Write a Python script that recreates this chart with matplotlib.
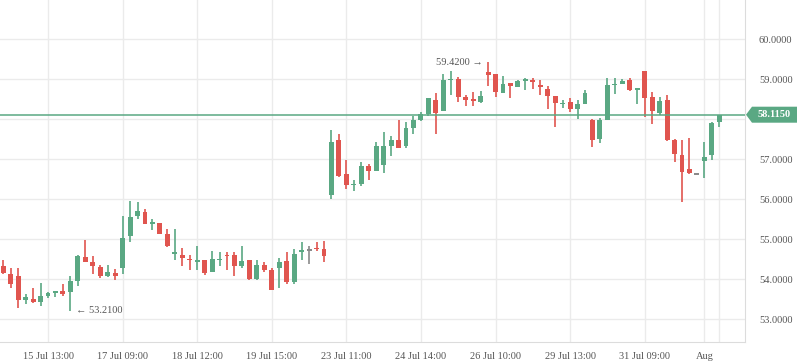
import matplotlib
matplotlib.use("Agg")
import matplotlib.pyplot as plt
from matplotlib.patches import Polygon
import numpy as np

opens = [54.33, 54.13, 54.08, 53.49, 53.50, 53.42, 53.57, 53.66, 53.70, 53.67,
         53.96, 54.56, 54.43, 54.31, 54.07, 54.16, 54.27, 55.07, 55.59, 55.68,
         55.39, 55.41, 55.13, 54.62, 54.61, 54.51, 54.44, 54.48, 54.17, 54.48,
         54.61, 54.61, 54.34, 54.47, 54.01, 54.36, 54.23, 54.29, 54.46, 53.94,
         54.67, 54.73, 54.78, 54.76, 56.11, 57.47, 56.62, 56.35, 56.37, 56.84,
         56.70, 56.85, 57.32, 57.47, 57.32, 57.79, 57.99, 58.14, 58.49, 58.20,
         58.97, 59.00, 58.56, 58.50, 58.43, 59.18, 59.12, 58.66, 58.91, 58.81,
         58.97, 58.99, 58.84, 58.76, 58.58, 58.38, 58.43, 58.26, 58.38, 57.98,
         57.51, 57.98, 58.86, 58.88, 58.98, 58.73, 59.20, 58.55, 58.16, 58.48,
         57.48, 57.10, 56.75, 56.63, 56.95, 57.10, 57.93]
highs = [54.47, 54.28, 54.28, 53.64, 53.77, 53.91, 53.69, 53.71, 53.87, 54.08,
         54.61, 54.98, 54.58, 54.35, 54.35, 54.26, 55.58, 55.96, 55.92, 55.75,
         55.50, 55.41, 55.26, 55.26, 54.78, 54.61, 54.84, 54.48, 54.71, 54.68,
         54.68, 54.68, 54.83, 54.48, 54.48, 54.42, 54.29, 54.52, 54.68, 54.76,
         54.93, 54.83, 54.93, 54.95, 57.74, 57.62, 56.97, 56.47, 56.94, 56.87,
         57.42, 57.67, 57.59, 57.99, 57.94, 58.08, 58.18, 58.52, 58.66, 59.12,
         59.20, 59.06, 58.60, 58.67, 58.70, 59.42, 59.12, 59.07, 58.91, 58.97,
         59.02, 59.02, 58.99, 58.83, 58.58, 58.48, 58.53, 58.49, 58.73, 58.00,
         58.04, 59.03, 59.03, 59.00, 59.03, 58.77, 59.20, 58.68, 58.55, 58.60,
         57.50, 57.48, 57.53, 56.63, 57.43, 57.94, 58.115]
lows = [54.12, 53.78, 53.29, 53.39, 53.41, 53.33, 53.54, 53.55, 53.58, 53.21,
        53.83, 54.44, 54.14, 54.02, 54.05, 53.99, 54.13, 54.94, 55.50, 55.37,
        55.23, 55.12, 54.80, 54.47, 54.32, 54.23, 54.23, 54.11, 54.17, 54.33,
        54.22, 54.07, 54.27, 53.97, 53.97, 54.17, 53.73, 53.77, 53.87, 53.89,
        54.49, 54.37, 54.71, 54.44, 56.00, 56.55, 56.25, 56.20, 56.32, 56.49,
        56.70, 56.65, 57.08, 57.29, 57.27, 57.62, 57.95, 58.08, 57.62, 58.20,
        58.60, 58.43, 58.33, 58.33, 58.41, 58.83, 58.56, 58.66, 58.53, 58.81,
        58.72, 58.76, 58.60, 58.25, 57.81, 58.28, 58.18, 58.01, 58.37, 57.31,
        57.41, 57.98, 58.63, 58.88, 58.71, 58.38, 58.06, 57.88, 58.10, 57.46,
        56.93, 55.93, 56.63, 56.63, 56.53, 56.98, 57.81]
closes = [54.15, 53.88, 53.49, 53.56, 53.42, 53.58, 53.66, 53.70, 53.63, 53.96,
          54.58, 54.44, 54.32, 54.07, 54.18, 54.07, 55.02, 55.56, 55.71, 55.37,
          55.43, 55.14, 54.84, 54.67, 54.52, 54.47, 54.48, 54.15, 54.51, 54.51,
          54.57, 54.34, 54.46, 54.01, 54.36, 54.23, 53.73, 54.42, 53.94, 54.63,
          54.73, 54.73, 54.76, 54.57, 57.44, 56.59, 56.35, 56.37, 56.82, 56.70,
          57.34, 57.32, 57.49, 57.29, 57.79, 57.99, 58.14, 58.52, 58.15, 58.97,
          59.00, 58.56, 58.49, 58.46, 58.58, 59.11, 58.68, 58.89, 58.83, 58.95,
          58.99, 58.93, 58.82, 58.58, 58.41, 58.41, 58.26, 58.38, 58.66, 57.49,
          57.98, 58.85, 58.88, 58.95, 58.73, 58.77, 58.53, 58.20, 58.45, 57.48,
          57.14, 56.68, 56.66, 56.63, 57.06, 57.91, 58.115]

tick_pos = [6, 16, 26, 36, 46, 56, 66, 76, 86, 94, 96]
tick_labels = ["15 Jul 13:00", "17 Jul 09:00", "18 Jul 12:00", "19 Jul 15:00",
               "23 Jul 11:00", "24 Jul 14:00", "26 Jul 10:00", "29 Jul 13:00",
               "31 Jul 09:00", "Aug", ""]
y_ticks = [53, 54, 55, 56, 57, 58, 59, 60]
last_price = 58.115
high_idx, high_val = 65, 59.42
low_idx, low_val = 9, 53.21

GREEN = "#5aa883"
RED = "#e0554f"
GRAY = "#8a8a8a"
TXT = "#555555"
FONT = "Liberation Serif"

fig = plt.figure(figsize=(7.98, 3.63), dpi=100)
ax = fig.add_axes([0, 21 / 363, 745 / 798, 342 / 363])

x = np.arange(len(opens))
o, h, l, c = map(np.array, (opens, highs, lows, closes))
colors = [GREEN if cc > oo else (RED if cc < oo else GRAY) for oo, cc in zip(o, c)]

ax.vlines(x, l, h, colors=colors, linewidth=1.2, zorder=3)
body = np.maximum(np.abs(c - o), 0.03)
bottom = np.minimum(o, c)
bottom = np.where(np.abs(c - o) < 0.03, (o + c) / 2 - 0.015, bottom)
ax.bar(x, body, bottom=bottom, width=0.66, color=colors, zorder=4, linewidth=0)

ax.axhline(last_price, color=GREEN, linewidth=1.1, zorder=5)

ax.set_xlim(-0.44, 99.45)
ax.set_ylim(52.43, 60.98)
ax.set_xticks(tick_pos)
ax.set_xticklabels(tick_labels, fontsize=7.5, color=TXT, fontname=FONT)
ax.set_yticks(y_ticks)
# the price tag covers the label closest to the last price
ax.set_yticklabels(["" if abs(v - last_price) < 0.3 else f"{v:.4f}" for v in y_ticks],
                   fontsize=7.5, color=TXT, fontname=FONT)
ax.yaxis.tick_right()
ax.tick_params(axis="both", length=0, pad=7)
ax.tick_params(axis="y", pad=10)
ax.grid(True, color="#ebebeb", linewidth=1, zorder=0)
for side in ("top", "left"):
    ax.spines[side].set_visible(False)
for side in ("right", "bottom"):
    ax.spines[side].set_color("#dcdcdc")

ax.annotate(f"{high_val:.4f} \u2192", xy=(high_idx, high_val), xytext=(-4, 0),
            textcoords="offset points", ha="right", va="center",
            fontsize=7.5, color=TXT, fontname=FONT, zorder=6)
ax.annotate(f"\u2190 {low_val:.4f}", xy=(low_idx, low_val), xytext=(4, 0),
            textcoords="offset points", ha="left", va="center",
            fontsize=7.5, color=TXT, fontname=FONT, zorder=6)

# last price tag on the right axis
yp = 363 - (39.3 + (60 - last_price) * 40)
pts = [(746, yp), (752, yp + 8), (797, yp + 8), (797, yp - 8), (752, yp - 8)]
fig.patches.append(Polygon([(px / 798, py / 363) for px, py in pts], closed=True,
                           transform=fig.transFigure, facecolor=GREEN, edgecolor="none"))
fig.text(774 / 798, yp / 363, f"{last_price:.4f}", ha="center", va="center",
         color="white", fontsize=7.5, fontweight="bold", fontname=FONT)

fig.savefig("out.png", dpi=100)
